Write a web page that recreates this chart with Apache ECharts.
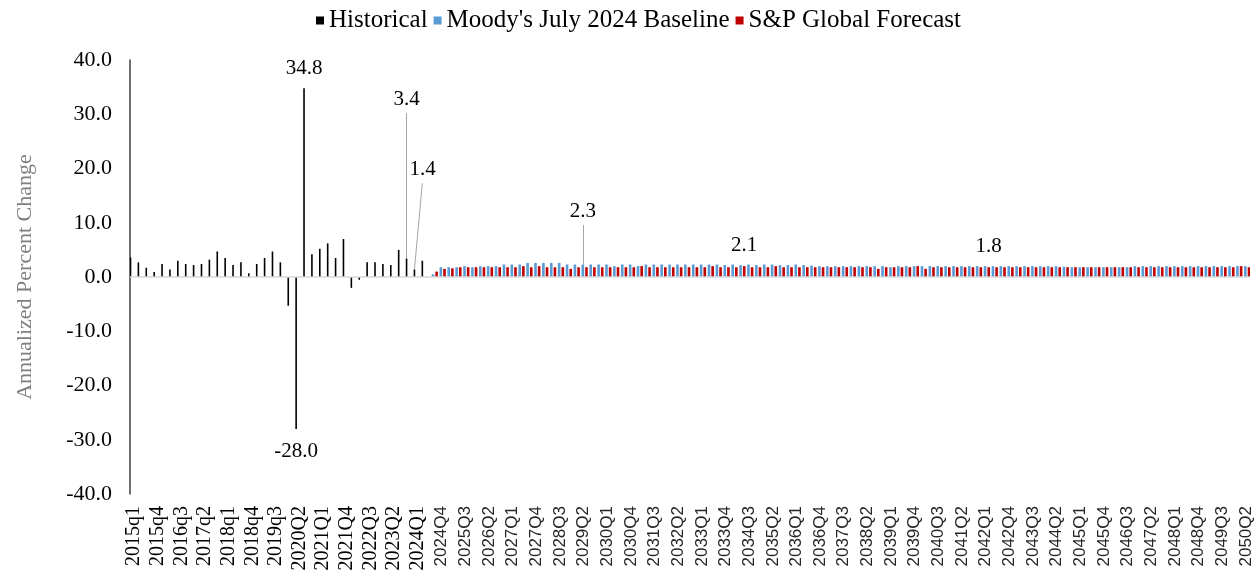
<!DOCTYPE html>
<html>
<head>
<meta charset="utf-8">
<script src="https://cdn.jsdelivr.net/npm/echarts@6/dist/echarts.min.js"></script>
<style>
  html, body { margin: 0; padding: 0; background: #fff; }
  #gdp-chart { width: 1256px; height: 574px; }
</style>
</head>
<body>
<div id="gdp-chart"></div>
<script>
const SERIF = "'Liberation Serif', 'Times New Roman', serif";
const SANS = "'Liberation Sans', Arial, sans-serif";
const BLACK = '#000000';
const BLUE = '#5b9bd5';
const RED = '#c00000';

// quarters 2015q1 .. 2050Q2 (lower case q before 2020, like the source sheet)
const quarters = [];
for (let y = 2015; y <= 2050; y++) {
  for (let q = 1; q <= 4; q++) {
    if (y === 2050 && q > 2) break;
    quarters.push(`${y}${y < 2020 ? 'q' : 'Q'}${q}`);
  }
}

// 2015q1 .. 2024Q2
const historical = [
  3.6, 2.7, 1.7, 0.9, 2.4, 1.4, 3.0, 2.4, 2.2, 2.4,
  3.2, 4.7, 3.5, 2.2, 2.7, 0.7, 2.4, 3.5, 4.7, 2.7,
  -5.3, -28.0, 34.8, 4.2, 5.2, 6.2, 3.5, 7.0, -2.0, -0.5,
  2.7, 2.7, 2.4, 2.2, 5.0, 3.4, 1.4, 3.0
];

// 2024Q3 .. 2050Q2
const moodys = [
  0.5, 1.8, 1.8, 1.8,  2.0, 1.8, 2.0, 2.0,  2.0, 2.3, 2.3, 2.3,
  2.6, 2.6, 2.6, 2.6,  2.6, 2.3, 2.3, 2.3,  2.3, 2.3, 2.3, 2.0,
  2.3, 2.3, 2.0, 2.3,  2.3, 2.3, 2.3, 2.3,  2.3, 2.3, 2.3, 2.3,
  2.3, 2.2, 2.3, 2.2,  2.3, 2.2, 2.3, 2.3,  2.2, 2.2, 2.3, 2.2,
  2.1, 2.0, 2.0, 2.0,  2.0, 2.0, 2.0, 2.0,  2.0, 2.0, 1.8, 2.0,
  2.0, 2.0, 2.0, 2.0,  2.0, 2.0, 2.0, 2.0,  2.0, 2.0, 2.0, 2.0,
  2.0, 2.0, 2.0, 2.0,  2.0, 2.0, 2.0, 2.0,  1.9, 1.8, 1.8, 1.8,
  1.8, 1.8, 1.8, 1.8,  1.8, 2.0, 2.0, 2.0,  2.0, 2.0, 2.0, 2.0,
  2.0, 2.0, 2.0, 2.0,  2.0, 2.0, 2.0, 2.0
];

const spGlobal = [
  1.0, 1.5, 1.6, 1.8,  1.8, 1.8, 1.8, 1.8,  1.8, 1.8, 1.8, 2.0,
  1.8, 2.0, 1.8, 1.8,  1.8, 1.5, 1.8, 1.8,  1.8, 1.8, 1.8, 1.8,
  1.8, 1.8, 2.0, 1.8,  1.8, 1.8, 1.8, 1.8,  1.8, 1.8, 1.8, 2.0,
  1.8, 1.8, 1.8, 2.0,  1.8, 1.8, 1.8, 2.0,  1.8, 1.8, 1.8, 1.8,
  1.8, 1.8, 1.8, 1.8,  1.8, 1.8, 1.8, 1.8,  1.5, 1.8, 1.8, 1.8,
  1.8, 2.0, 1.5, 1.8,  1.8, 1.8, 1.8, 1.8,  1.8, 1.8, 1.8, 1.8,
  1.8, 1.8, 1.8, 1.8,  1.8, 1.8, 1.8, 1.8,  1.8, 1.8, 1.8, 1.8,
  1.8, 1.8, 1.8, 1.8,  1.8, 1.8, 1.8, 1.8,  1.8, 1.8, 1.8, 1.8,
  1.8, 1.8, 1.8, 1.8,  1.8, 1.8, 2.0, 1.8
];

// callouts with leader lines: [quarter at bar, bar value, quarter at line end, line top, text]
const histCallouts = [
  ['2023Q4', 3.4, '2023Q4', 30.2, '3.4'],
  ['2024Q1', 1.4, '2024Q2', 17.3, '1.4']
];
const moodysCallouts = [
  ['2029Q2', 2.3, '2029Q2', 9.6, '2.3']
];
// plain text callouts sitting over the forecast bars
const forecastNotes = [
  ['2034Q2', '2.1'],
  ['2042Q1', '1.8']
];
// peak/trough labels on historical bars
const histPeaks = [
  ['2020Q2', 'bottom'],
  ['2020Q3', 'top']
];

const textBase = {color: '#000', fontFamily: SERIF, fontSize: 21};

const histData = quarters.map((q, i) => i < historical.length ? historical[i] : null);
histPeaks.forEach(([q, pos]) => {
  const i = quarters.indexOf(q);
  histData[i] = {
    value: historical[i],
    label: {show: true, position: pos, distance: pos === 'top' ? 9 : 12,
      formatter: (p) => p.value.toFixed(1), ...textBase}
  };
});

const pad = new Array(historical.length).fill(null);
const moodysData = pad.concat(moodys);
const spData = pad.concat(spGlobal);
forecastNotes.forEach(([q, text]) => {
  const i = quarters.indexOf(q);
  spData[i] = {value: spData[i], label: {show: true, position: 'top', distance: 10, formatter: text, ...textBase}};
});

const leader = (c) => [
  {name: c[4], coord: [c[0], c[1]]},
  {name: c[4], coord: [c[2], c[3]]}
];
const leaderStyle = {
  silent: true,
  symbol: ['none', 'none'],
  lineStyle: {color: '#a6a6a6', width: 1, type: 'solid'},
  label: {show: true, position: 'end', distance: 3, formatter: (p) => p.name, ...textBase},
  emphasis: {disabled: true}
};

const chartOptions = {
  animation: false,
  legend: {
    top: 3,
    left: 311,
    icon: 'rect',
    itemWidth: 8,
    itemHeight: 8,
    itemGap: 6,
    textStyle: {...textBase, fontSize: 25},
    data: ['Historical', "Moody's July 2024 Baseline", 'S&P Global Forecast']
  },
  grid: {left: 130, right: 6, top: 60, bottom: 80, outerBoundsMode: 'none'},
  xAxis: {
    type: 'category',
    data: quarters,
    axisLine: {show: false, onZero: false},
    axisTick: {show: false},
    axisLabel: {
      interval: 2,
      rotate: 90,
      margin: 12,
      formatter: (v, i) => i < historical.length ? `{s|${v}}` : `{n|${v}}`,
      rich: {
        s: {fontFamily: SERIF, fontSize: 20, color: '#000'},
        n: {fontFamily: SANS, fontSize: 17, color: '#262626'}
      }
    }
  },
  yAxis: {
    type: 'value',
    min: -40,
    max: 40,
    interval: 10,
    name: 'Annualized Percent Change',
    nameLocation: 'middle',
    nameGap: 94,
    nameTextStyle: {color: '#7f7f7f', fontFamily: SERIF, fontSize: 22},
    axisLine: {show: true, lineStyle: {color: '#404040', width: 1.5}},
    axisTick: {show: false},
    splitLine: {show: false},
    axisLabel: {margin: 18, formatter: (v) => v.toFixed(1), ...textBase, fontSize: 22}
  },
  series: [
    {
      name: 'Historical',
      type: 'bar',
      barWidth: 1.6,
      barGap: '40%',
      itemStyle: {color: BLACK},
      data: histData,
      markLine: {...leaderStyle, data: histCallouts.map(leader)}
    }, {
      name: "Moody's July 2024 Baseline",
      type: 'bar',
      barWidth: 2.6,
      barGap: '40%',
      itemStyle: {color: BLUE},
      data: moodysData,
      markLine: {...leaderStyle, data: moodysCallouts.map(leader)}
    }, {
      name: 'S&P Global Forecast',
      type: 'bar',
      barWidth: 2.6,
      barGap: '40%',
      itemStyle: {color: RED},
      data: spData,
      z: 2,
      markLine: {
        silent: true,
        symbol: ['none', 'none'],
        label: {show: false},
        lineStyle: {color: '#d9d9d9', width: 1.5, type: 'solid'},
        data: [{yAxis: 0}]
      }
    }
  ]
};

const gdpChart = echarts.init(document.getElementById('gdp-chart'));
gdpChart.setOption(chartOptions);
</script>
</body>
</html>
